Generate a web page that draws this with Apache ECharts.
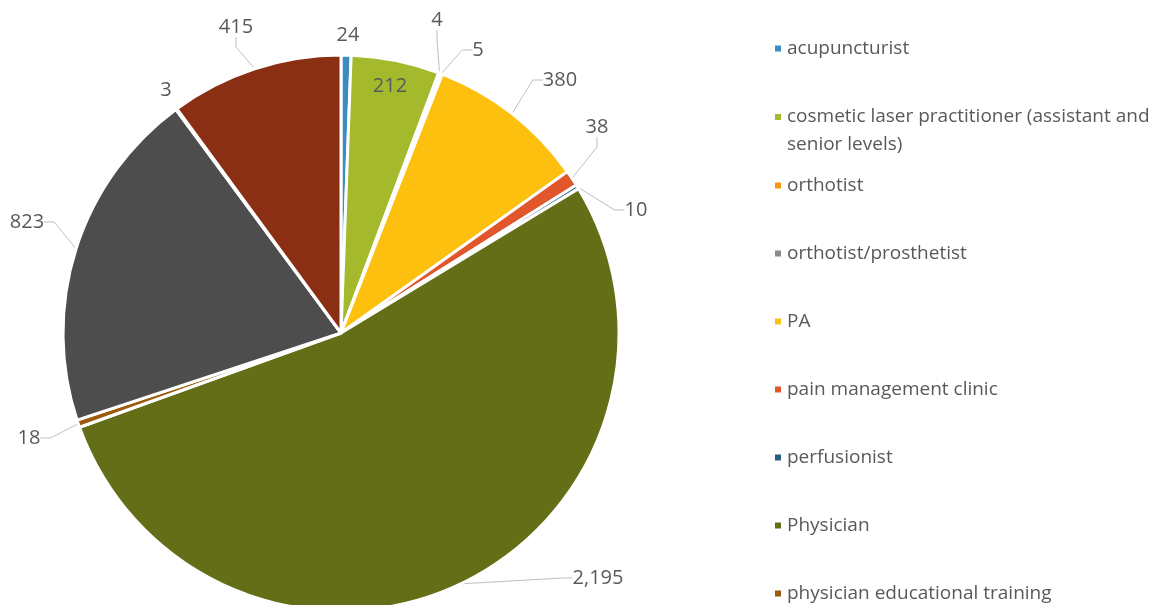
<!DOCTYPE html>
<html>
<head>
<meta charset="utf-8">
<style>
  html, body { margin: 0; padding: 0; background: #fff; }
  #chart { width: 1154px; height: 605px; }
</style>
<script src="https://cdn.jsdelivr.net/npm/echarts@6/dist/echarts.min.js"></script>
</head>
<body>
<div id="chart"></div>
<script>
var categories = ['acupuncturist', 'cosmetic laser practitioner (assistant and senior levels)', 'orthotist',
    'orthotist/prosthetist', 'PA', 'pain management clinic', 'perfusionist', 'Physician',
    'physician educational training', 'podiatrist', 'prosthetist', 'resident'];
var counts = [24, 212, 4, 5, 380, 38, 10, 2195, 18, 823, 3, 415];
var colors = ['#3a8cc1', '#a5b92c', '#f7960f', '#8a8a8a', '#fdc00f', '#e2562b',
    '#255e7f', '#636e17', '#9c5a0c', '#4d4d4d', '#7f7f7f', '#8a2f14'];

// where each data label sits (centre of the text), Excel "best fit" style
var labelSpots = {
    0: [348, 35], 1: [390, 86], 2: [437, 20], 3: [478, 50], 4: [560, 80],
    5: [597, 127], 6: [636, 210], 7: [598, 578], 8: [29, 438], 9: [27, 222],
    10: [166, 90], 11: [236, 27]
};
var noLine = [0, 1, 10];

var myChart = echarts.init(document.getElementById('chart'));

var legendText = {
    fontFamily: 'Open Sans',
    fontSize: 19,
    color: '#595959'
};

option = {
    color: colors,
    legend: [
        {
            orient: 'vertical',
            left: 768,
            top: 34,
            itemWidth: 8,
            itemHeight: 8,
            icon: 'rect',
            selectedMode: false,
            textStyle: legendText,
            data: [categories[0]]
        },
        {
            orient: 'vertical',
            left: 768,
            top: 70,
            itemWidth: 8,
            itemHeight: 8,
            icon: 'rect',
            selectedMode: false,
            formatter: function (name) {
                return '\n' + name;
            },
            textStyle: {
                fontFamily: 'Open Sans',
                fontSize: 19,
                color: '#595959',
                width: 380,
                overflow: 'break',
                lineHeight: 28
            },
            data: [categories[1]]
        },
        {
            orient: 'vertical',
            left: 768,
            top: 171,
            height: 1000,
            itemWidth: 8,
            itemHeight: 8,
            itemGap: 49,
            icon: 'rect',
            selectedMode: false,
            textStyle: legendText,
            data: categories.slice(2)
        }
    ],
    series: [
        {
            name: 'count',
            type: 'pie',
            radius: 278,
            center: [341, 333],
            startAngle: 90,
            clockwise: true,
            avoidLabelOverlap: false,
            itemStyle: {
                borderColor: '#fff',
                borderWidth: 3
            },
            label: {
                show: true,
                position: 'outside',
                fontFamily: 'Open Sans',
                fontSize: 20,
                color: '#595959',
                formatter: function (p) {
                    return p.value.toLocaleString('en-US');
                }
            },
            labelLine: {
                show: true,
                length: 14,
                length2: 10,
                lineStyle: { color: '#bfbfbf', width: 1 }
            },
            labelLayout: function (params) {
                var s = labelSpots[params.dataIndex];
                return { x: s[0], y: s[1], align: 'center', verticalAlign: 'middle' };
            },
            data: categories.map(function (name, i) {
                var item = { name: name, value: counts[i] };
                if (noLine.indexOf(i) >= 0) {
                    item.labelLine = { show: false };
                }
                if (i === 1) {
                    item.label = { position: 'inside' };
                }
                return item;
            })
        }
    ]
};

myChart.setOption(option);
</script>
</body>
</html>
